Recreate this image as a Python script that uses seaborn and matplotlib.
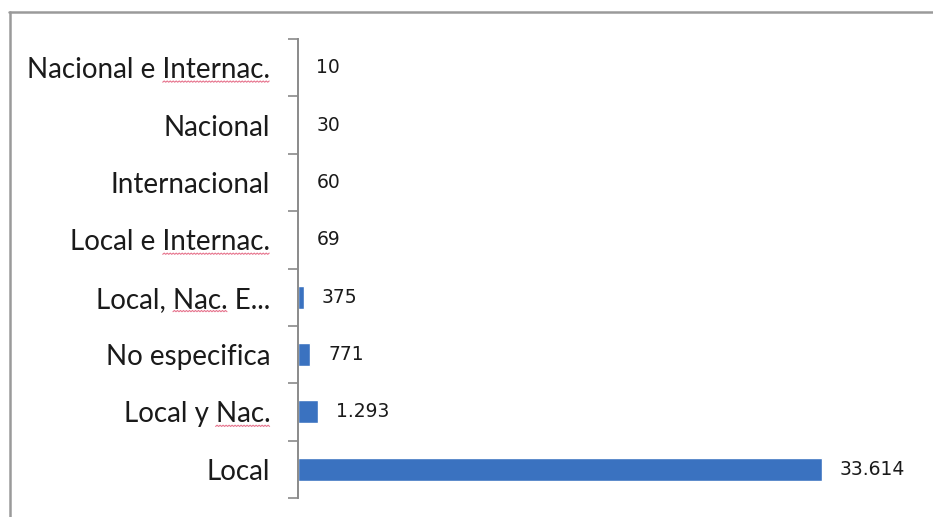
import numpy as np
import pandas as pd
import matplotlib
matplotlib.use("Agg")
import matplotlib.pyplot as plt
from matplotlib.lines import Line2D
import seaborn as sns

# Categories listed top to bottom, with their counts
categories = ["Nacional e Internac.", "Nacional", "Internacional", "Local e Internac.",
              "Local, Nac. E...", "No especifica", "Local y Nac.", "Local"]
counts = [10, 30, 60, 69, 375, 771, 1293, 33614]

# Words marked with a wavy red underline: (label, prefix before word, word)
underlined = [("Nacional e Internac.", "Nacional e ", "Internac."),
              ("Local e Internac.", "Local e ", "Internac."),
              ("Local, Nac. E...", "Local, ", "Nac."),
              ("Local y Nac.", "Local y ", "Nac.")]

df = pd.DataFrame({"categoria": categories, "total": counts})

sns.set_theme(style="white")
plt.rcParams["font.family"] = ["Lato", "DejaVu Sans"]

W, H = 933, 517
fig = plt.figure(figsize=(W / 100, H / 100), dpi=100)
fig.patch.set_facecolor("white")

ax = fig.add_axes([298 / W, 1 - 498 / H, (925 - 298) / W, (498 - 39) / H])
sns.barplot(data=df, x="total", y="categoria", order=categories, orient="h",
            color="#3A72C0", width=0.4, saturation=1, ax=ax)

ax.set_xlim(0, 33614 * (925 - 298) / (822 - 298))
ax.set_ylim(len(categories) - 0.5, -0.5)
ax.set_xlabel("")
ax.set_ylabel("")
ax.set_xticks([])

for side in ["top", "right", "bottom"]:
    ax.spines[side].set_visible(False)
ax.spines["left"].set_color("#8a8a8a")
ax.spines["left"].set_linewidth(1.4)

# Boundary ticks between categories, labels on minor ticks at centers
ax.set_yticks(np.arange(-0.5, len(categories), 1.0))
ax.set_yticklabels([])
ax.set_yticks(np.arange(len(categories)), minor=True)
ax.set_yticklabels(categories, minor=True)
ax.tick_params(axis="y", which="major", length=7, width=1.2, color="#8a8a8a",
               direction="out", left=True)
ax.tick_params(axis="y", which="minor", length=0, pad=20, labelsize=20,
               labelcolor="#1a1a1a")

labels = [f"{v:,}".replace(",", ".") for v in counts]
ax.bar_label(ax.containers[0], labels=labels, padding=13, fontsize=13.5,
             color="#1a1a1a", family=["DejaVu Sans"])

# Frame lines along the top and left edge of the figure
fig.add_artist(Line2D([9 / W, 1], [1 - 12 / H, 1 - 12 / H], transform=fig.transFigure,
                      color="#9a9a9a", lw=1.8))
fig.add_artist(Line2D([10 / W, 10 / W], [0, 1 - 12 / H], transform=fig.transFigure,
                      color="#9a9a9a", lw=1.8))

# Wavy red underline under flagged words
fig.canvas.draw()
renderer = fig.canvas.get_renderer()
tick_texts = {t.get_text(): t for t in ax.get_yticklabels(minor=True)}


def text_width(s, ref):
    tmp = fig.text(0, 0, s, fontproperties=ref.get_fontproperties())
    w = tmp.get_window_extent(renderer).width
    tmp.remove()
    return w


for label, prefix, word in underlined:
    t = tick_texts[label]
    bb = t.get_window_extent(renderer)
    x0 = bb.x0 + text_width(prefix, t)
    x1 = x0 + text_width(word, t)
    y = bb.y0 + 1
    xs = np.arange(x0, x1 + 0.1, 1.5)
    ys = y + np.where(np.arange(len(xs)) % 2 == 0, 0.0, 1.2)
    fig.add_artist(Line2D(xs / W, ys / H, transform=fig.transFigure,
                          color="#e05070", lw=0.8, alpha=0.8))

fig.savefig("out.png", dpi=100, facecolor="white")
